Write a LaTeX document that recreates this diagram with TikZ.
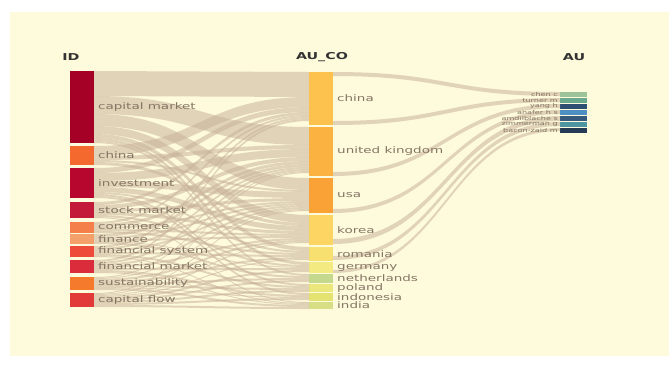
\documentclass[tikz,border=0pt]{standalone}
\usepackage{fontspec}
\setmainfont{DejaVu Sans}[FakeStretch=1.5]
\usetikzlibrary{positioning}
\definecolor{paper}{HTML}{FEFADC}
\definecolor{band}{HTML}{C9B39A}
\definecolor{ink}{HTML}{857565}
% colours of the blocks
\definecolor{cidcm}{HTML}{A50026}\definecolor{cidch}{HTML}{F46A2E}
\definecolor{cidin}{HTML}{B8072E}\definecolor{cidsm}{HTML}{C41A3A}
\definecolor{cidco}{HTML}{F57F4A}\definecolor{cidfi}{HTML}{F4A06A}
\definecolor{cidfs}{HTML}{EE4B3A}\definecolor{cidfm}{HTML}{DA2C3A}
\definecolor{cidsu}{HTML}{F67A2C}\definecolor{cidcf}{HTML}{E23A38}
\definecolor{ccoch}{HTML}{FDC24E}\definecolor{ccouk}{HTML}{FCB240}
\definecolor{ccous}{HTML}{FBA236}\definecolor{ccoko}{HTML}{FCD562}
\definecolor{ccoro}{HTML}{F8E070}\definecolor{ccoge}{HTML}{F3EA82}
\definecolor{ccone}{HTML}{C5D98E}\definecolor{ccopo}{HTML}{EBE77C}
\definecolor{ccoid}{HTML}{E4E372}\definecolor{ccoin}{HTML}{D6DE86}
\definecolor{cau1}{HTML}{9DC39A}\definecolor{cau2}{HTML}{6AA88E}
\definecolor{cau3}{HTML}{2F4F72}\definecolor{cau4}{HTML}{4D8FC3}
\definecolor{cau5}{HTML}{36597E}\definecolor{cau6}{HTML}{4E95A2}
\definecolor{cau7}{HTML}{243A55}
% one ribbon from a left node to a middle node, stacked on both ends
\newcommand{\flow}[3]{%
  \path (#1.north east) ++(0,\csname out@#1\endcsname) coordinate (s1) ++(0,#3) coordinate (s2)
        (#2.north west) ++(0,\csname in@#2\endcsname) coordinate (t1) ++(0,#3) coordinate (t2);
  \fill[ribbon] (s1) .. controls +(108,0) and +(-108,0) .. (t1) -- (t2)
     .. controls +(-108,0) and +(108,0) .. (s2) -- cycle;
  \pgfmathsetmacro\tmp{\csname out@#1\endcsname+#3}\expandafter\xdef\csname out@#1\endcsname{\tmp}%
  \pgfmathsetmacro\tmp{\csname in@#2\endcsname+#3}\expandafter\xdef\csname in@#2\endcsname{\tmp}%
}
% one ribbon from a middle node (given offset) to an author
\newcommand{\aulink}[4]{%
  \path (#1.north east) ++(0,#2) coordinate (s1) ++(0,#4) coordinate (s2)
        (#3.north west) coordinate (t1) ++(0,#4) coordinate (t2);
  \fill[ribbon] (s1) .. controls +(113,0) and +(-113,0) .. (t1) -- (t2)
     .. controls +(-113,0) and +(113,0) .. (s2) -- cycle;
}

\begin{document}
\begin{tikzpicture}[x=1pt,y=-1pt]
    %
    % `bar' is a column block, `lbl' its name, `head' the column title.
    % `ribbon' is used for all the flows.
    \tikzstyle{bar} = [anchor=north west,inner sep=0pt,outer sep=0pt,minimum width=24pt]
    \tikzstyle{lbl} = [anchor=west,inner sep=0pt,xshift=4pt,text=ink,font=\fontsize{9}{10}\selectfont]
    \tikzstyle{aulbl} = [anchor=east,inner sep=0pt,xshift=-2pt,text=ink,font=\fontsize{5.4}{6}\selectfont]
    \tikzstyle{head} = [inner sep=0pt,text=black!80,font=\bfseries\fontsize{9.5}{11}\selectfont]
    \tikzstyle{ribbon} = [fill=band,fill opacity=0.55]
    %
    \useasboundingbox (0,0) rectangle (669,365);
    \fill[paper] (10,12) rectangle (669,356);
    %
    % Titles
    \node[head] (hid) at (71,57) {ID};
    \node[head] (hco) at (322,57) {AU\_CO};
    \node[head] (hau) at (574,57) {AU};
    %
    % Column ID
    \node[bar,fill=cidcm,minimum height=72pt] (idcm) at (70,71) {};
    \node[bar,fill=cidch,minimum height=19pt] (idch) at (70,146) {};
    \node[bar,fill=cidin,minimum height=30pt] (idin) at (70,168) {};
    \node[bar,fill=cidsm,minimum height=16pt] (idsm) at (70,202) {};
    \node[bar,fill=cidco,minimum height=11pt] (idco) at (70,222) {};
    \node[bar,fill=cidfi,minimum height=10pt] (idfi) at (70,234) {};
    \node[bar,fill=cidfs,minimum height=11pt] (idfs) at (70,246) {};
    \node[bar,fill=cidfm,minimum height=13pt] (idfm) at (70,260) {};
    \node[bar,fill=cidsu,minimum height=13pt] (idsu) at (70,277) {};
    \node[bar,fill=cidcf,minimum height=14pt] (idcf) at (70,293) {};
    %
    % Column AU_CO
    \node[bar,fill=ccoch,minimum height=53pt] (coch) at (309,72) {};
    \node[bar,fill=ccouk,minimum height=49pt] (couk) at (309,127) {};
    \node[bar,fill=ccous,minimum height=35pt] (cous) at (309,178) {};
    \node[bar,fill=ccoko,minimum height=30pt] (coko) at (309,215) {};
    \node[bar,fill=ccoro,minimum height=14pt] (coro) at (309,247) {};
    \node[bar,fill=ccoge,minimum height=11pt] (coge) at (309,262) {};
    \node[bar,fill=ccone,minimum height=9pt] (cone) at (309,274) {};
    \node[bar,fill=ccopo,minimum height=8pt] (copo) at (309,284) {};
    \node[bar,fill=ccoid,minimum height=8pt] (coid) at (309,293) {};
    \node[bar,fill=ccoin,minimum height=7pt] (coin) at (309,302) {};
    %
    % Column AU
    \foreach \i/\y in {1/92,2/98,3/104,4/110,5/116,6/122,7/128}
      \node[bar,fill=cau\i,minimum height=5pt,minimum width=27pt] (au\i) at (560,\y) {};
    %
    % Flows ID -> AU_CO
    \foreach \n in {idcm,idch,idin,idsm,idco,idfi,idfs,idfm,idsu,idcf}
      {\expandafter\xdef\csname out@\n\endcsname{0}}
    \foreach \n in {coch,couk,cous,coko,coro,coge,cone,copo,coid,coin}
      {\expandafter\xdef\csname in@\n\endcsname{0}}
    \foreach \s/\t/\w in {idcm/coch/25,idcm/couk/18,idcm/cous/12,idcm/coko/8,idcm/coro/4,idcm/coge/3,idcm/cone/2,
        idch/coch/10,idch/couk/4,idch/cous/2,idch/coko/3,
        idin/coch/5,idin/couk/8,idin/cous/6,idin/coko/5,idin/coro/2,idin/copo/2,idin/coid/2,
        idsm/coch/3,idsm/couk/4,idsm/cous/3,idsm/coko/3,idsm/coge/2,idsm/coin/1,
        idco/coch/2,idco/couk/3,idco/cous/2,idco/coko/2,idco/coro/2,
        idfi/couk/3,idfi/cous/2,idfi/coko/2,idfi/coge/1,idfi/cone/2,
        idfs/coch/2,idfs/couk/2,idfs/cous/2,idfs/coro/2,idfs/copo/2,idfs/coin/1,
        idfm/coch/2,idfm/couk/2,idfm/cous/2,idfm/coko/2,idfm/coge/2,idfm/coid/2,idfm/coin/1,
        idsu/couk/1,idsu/cous/1,idsu/coko/2,idsu/coro/2,idsu/cone/2,idsu/copo/2,idsu/coid/1,idsu/coin/2,
        idcf/couk/1,idcf/cous/1,idcf/coko/1,idcf/coro/1,idcf/coge/2,idcf/cone/2,idcf/copo/2,idcf/coid/2,idcf/coin/2}
      {\flow{\s}{\t}{\w}}
    %
    % Flows AU_CO -> AU
    \aulink{coch}{0}{au1}{4}
    \aulink{coch}{49}{au2}{4}
    \aulink{couk}{45}{au3}{4}
    \aulink{cous}{31}{au4}{4}
    \aulink{coko}{24}{au5}{5}
    \aulink{coro}{9}{au6}{4}
    \aulink{coge}{8}{au7}{3}
    %
    % Labels
    \node[lbl] (lcm) at (idcm.east) {capital market};
    \node[lbl] (lch) at (idch.east) {china};
    \node[lbl] (lin) at (idin.east) {investment};
    \node[lbl] (lsm) at (idsm.east) {stock market};
    \node[lbl] (lco) at (idco.east) {commerce};
    \node[lbl] (lfi) at (idfi.east) {finance};
    \node[lbl] (lfs) at (idfs.east) {financial system};
    \node[lbl] (lfm) at (idfm.east) {financial market};
    \node[lbl] (lsu) at (idsu.east) {sustainability};
    \node[lbl] (lcf) at (idcf.east) {capital flow};
    %
    \node[lbl] (mch) at (coch.east) {china};
    \node[lbl] (muk) at (couk.east) {united kingdom};
    \node[lbl] (mus) at (cous.east) {usa};
    \node[lbl] (mko) at (coko.east) {korea};
    \node[lbl] (mro) at (coro.east) {romania};
    \node[lbl] (mge) at (coge.east) {germany};
    \node[lbl] (mne) at (cone.east) {netherlands};
    \node[lbl] (mpo) at (copo.east) {poland};
    \node[lbl] (mid) at (coid.east) {indonesia};
    \node[lbl] (min) at (coin.east) {india};
    %
    \node[aulbl] (a1) at (au1.west) {chen c};
    \node[aulbl] (a2) at (au2.west) {turner m};
    \node[aulbl] (a3) at (au3.west) {yang h};
    \node[aulbl] (a4) at (au4.west) {anafer h s};
    \node[aulbl] (a5) at (au5.west) {amdilblache s};
    \node[aulbl] (a6) at (au6.west) {zimmerman g};
    \node[aulbl] (a7) at (au7.west) {bacon-zaid m};
    %
\end{tikzpicture}
\end{document}
